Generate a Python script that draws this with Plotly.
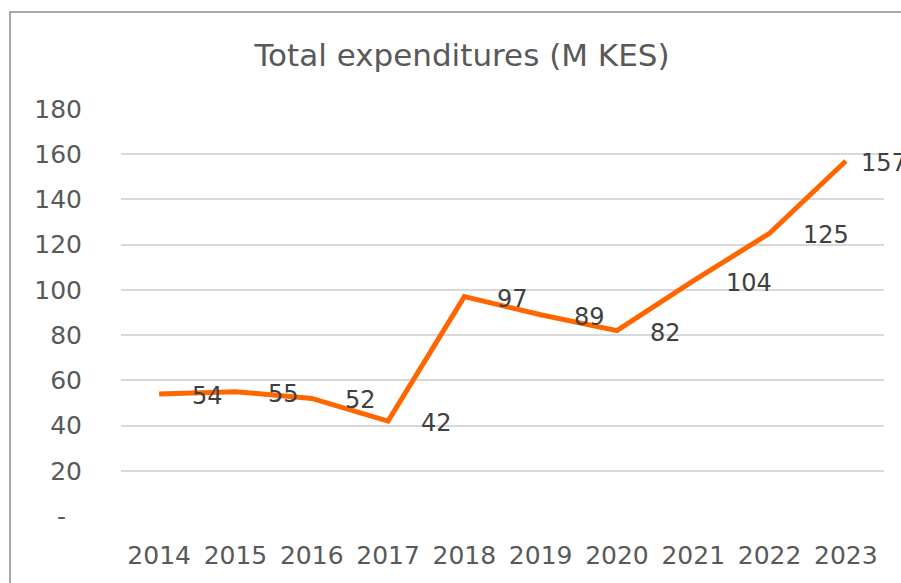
import plotly.graph_objects as go

years = ["2014", "2015", "2016", "2017", "2018", "2019", "2020", "2021", "2022", "2023"]
expenditures = [54, 55, 52, 42, 97, 89, 82, 104, 125, 157]
y_ticks = [0, 20, 40, 60, 80, 100, 120, 140, 160, 180]
y_tick_labels = ["-\u00a0\u00a0", "20", "40", "60", "80", "100", "120", "140", "160", "180"]

FONT = "DejaVu Sans"
GREY = "#595959"

fig = go.Figure(go.Scatter(
    x=years, y=expenditures,
    mode="lines",
    line=dict(color="#FF6600", width=5),
    hoverinfo="skip",
))

# data labels sit to the right of each point, like Excel's "Right" position
# (category axis: annotation x is the category index)
for i, val in enumerate(expenditures):
    last = i == len(years) - 1
    fig.add_annotation(
        x=i, y=val, text=str(val), showarrow=False,
        xanchor="left", yanchor="middle",
        xshift=13 if last else 31, yshift=-2,
        font=dict(family=FONT, size=24, color="#404040"),
    )

# chart border (runs off the right and bottom edges)
fig.add_shape(type="rect", xref="paper", yref="paper",
              x0=-0.1455, y0=-0.3, x1=1.2, y1=1.2383,
              line=dict(color="#8C8C8C", width=1.5), layer="below")

# cut-off text above the chart, only its bottom edge shows
fig.add_annotation(xref="paper", yref="paper", x=-0.098, y=1 + 103 / 407,
                   text="2020.", showarrow=False, xanchor="right", yanchor="bottom",
                   font=dict(family=FONT, size=23, color="#000000"))

fig.update_layout(
    width=901, height=583,
    margin=dict(l=121, r=17, t=109, b=67),
    paper_bgcolor="white", plot_bgcolor="white",
    showlegend=False,
    title=dict(text="Total expenditures (M KES)", x=462 / 901, xref="container",
               xanchor="center", y=1 - 55 / 583, yanchor="middle",
               font=dict(family=FONT, size=31, color=GREY)),
    font=dict(family=FONT, size=24, color=GREY),
)

fig.update_xaxes(type="category", range=[-0.5, 9.5], showgrid=False,
                 showline=False, zeroline=False, ticks="", ticklabelstandoff=22,
                 tickfont=dict(family=FONT, size=25, color=GREY))
fig.update_yaxes(range=[0, 180], tickvals=y_ticks, ticktext=y_tick_labels,
                 showgrid=True, gridcolor="#D9D9D9", gridwidth=1.5,
                 zeroline=False, showline=False, ticks="", ticklabelstandoff=38,
                 tickfont=dict(family=FONT, size=25, color=GREY))

fig.write_html("out.html", config={"displayModeBar": False},
               post_script="document.body.style.margin = '0';")
